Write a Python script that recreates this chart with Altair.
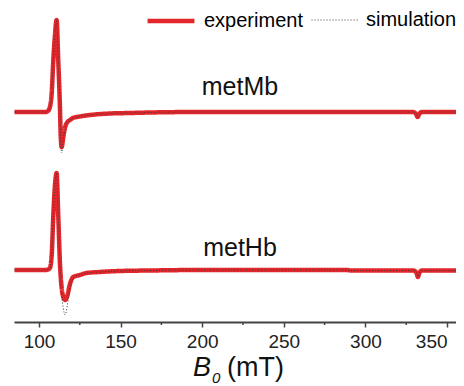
import altair as alt
import pandas as pd

# ---- data (field in mT, intensity in arbitrary units) ----
field_mb = [85, 100, 104, 105.5, 106.7, 107.8, 108.8, 109.8, 110.8, 111.8, 112.9, 113.3,
            113.9, 114.9, 115.9, 117, 119, 120.8, 125, 131.3, 143.5, 155.8, 168, 198.7,
            250, 300, 329.5, 331, 332, 333, 334.5, 360]
exp_mb = [0, 0, 0, 1, 5, 19, 52, 77, 92, 52, 2, -23,
          -35, -25, -16, -11, -8, -6, -4.5, -3, -1.5, -1, -0.5, 0,
          0, 0, 0, -2, -5, -2, 0, 0]
sim_mb = [0, 0, 0, 1, 5, 19, 52, 77, 92, 52, 2, -27,
          -41, -28, -17, -11, -8, -6, -4.5, -3, -1.5, -1, -0.5, 0,
          0, 0, 0, -2, -5, -2, 0, 0]

field_hb = [85, 100, 104, 105.5, 106.7, 107.8, 108.8, 109.8, 110.8, 111.8, 112.9, 113.9,
            114.9, 116, 117.3, 119, 121, 125, 129.2, 137, 149.6, 168, 198.7, 250,
            288, 292, 329.5, 331.3, 332.2, 333, 334.5, 360]
exp_hb = [0, 0, 0, 0.5, 2, 15, 55, 85, 97, 55, 5, -18,
          -27, -30, -26, -14, -7, -5, -3, -2, -1, -0.5, 0, 0,
          0, -0.6, -0.6, -3, -7, -3, -0.6, -0.6]
sim_hb = [0, 0, 0, 0.5, 2, 15, 55, 85, 97, 55, 5, -24,
          -38, -45, -36, -18, -8, -5, -3, -2, -1, -0.5, 0, 0,
          0, -0.6, -0.6, -3, -7, -3, -0.6, -0.6]

spectra = ["metMb", "metHb"]
offsets = {"metMb": 158, "metHb": 0}
series = ["experiment", "simulation"]
major_ticks = [100, 150, 200, 250, 300, 350]
minor_ticks = [125, 175, 225, 275, 325]

RED = "#e3262b"
DOT = "#3a3a3a"
FONT = "Liberation Sans"

rows = []
for name, fx, ex, sm in [("metMb", field_mb, exp_mb, sim_mb), ("metHb", field_hb, exp_hb, sim_hb)]:
    for f, e, s in zip(fx, ex, sm):
        rows.append({"spectrum": name, "series": "experiment", "field": f, "y": e + offsets[name]})
        rows.append({"spectrum": name, "series": "simulation", "field": f, "y": s + offsets[name]})
df = pd.DataFrame(rows)

W, H = 442, 314

xscale = alt.Scale(domain=[84.7, 355.5], nice=False, zero=False)
yscale = alt.Scale(domain=[-52, 262], nice=False, zero=False)

leg = alt.Legend(title=None, orient="none", legendX=131, legendY=-13, direction="horizontal",
                 symbolType="stroke", symbolSize=2200, labelFontSize=20, labelFont=FONT,
                 labelColor="#000", labelOffset=7, columnPadding=6, labelLimit=300)

enc = dict(
    x=alt.X("field:Q", scale=xscale,
            axis=alt.Axis(values=major_ticks, tickSize=5, tickWidth=1.5, tickColor="#444",
                          domainColor="#444", domainWidth=2, labelFontSize=19, labelFont=FONT,
                          labelColor="#222", labelPadding=5, labelFlush=12, grid=False, title=None)),
    y=alt.Y("y:Q", scale=yscale, axis=None),
    color=alt.Color("series:N", scale=alt.Scale(domain=series, range=[RED, DOT]), legend=leg),
    strokeDash=alt.StrokeDash("series:N", scale=alt.Scale(domain=series, range=[[1, 0], [1, 2]]), legend=leg),
    strokeWidth=alt.StrokeWidth("series:O", scale=alt.Scale(domain=series, range=[4.5, 1]), legend=leg),
    detail="spectrum:N",
)

exp_layer = alt.Chart(df).transform_filter(alt.datum.series == "experiment").mark_line(
    interpolate="monotone").encode(**enc)
sim_layer = alt.Chart(df).transform_filter(alt.datum.series == "simulation").mark_line(
    interpolate="monotone").encode(**enc)

minor = alt.Chart(pd.DataFrame({"v": minor_ticks})).mark_rule(color="#444", strokeWidth=1.5).encode(
    x=alt.X("v:Q", scale=xscale), y=alt.value(H), y2=alt.value(H + 3))

lab_mb = alt.Chart(pd.DataFrame({"t": ["metMb"]})).mark_text(
    font=FONT, fontSize=25, align="center", baseline="middle", color="#111").encode(
    text="t:N", x=alt.value(226), y=alt.value(79))
lab_hb = alt.Chart(pd.DataFrame({"t": ["metHb"]})).mark_text(
    font=FONT, fontSize=25, align="center", baseline="middle", color="#111").encode(
    text="t:N", x=alt.value(226), y=alt.value(240))

t_b = alt.Chart(pd.DataFrame({"t": ["B"]})).mark_text(
    font=FONT, fontSize=27, fontStyle="italic", align="left", baseline="alphabetic", color="#111").encode(
    text="t:N", x=alt.value(179), y=alt.value(368))
t_0 = alt.Chart(pd.DataFrame({"t": ["0"]})).mark_text(
    font=FONT, fontSize=15, fontStyle="italic", align="left", baseline="alphabetic", color="#111").encode(
    text="t:N", x=alt.value(198), y=alt.value(375))
t_u = alt.Chart(pd.DataFrame({"t": ["(mT)"]})).mark_text(
    font=FONT, fontSize=27, align="left", baseline="alphabetic", color="#111").encode(
    text="t:N", x=alt.value(213), y=alt.value(368))

chart = alt.layer(exp_layer, sim_layer, minor, lab_mb, lab_hb, t_b, t_0, t_u).properties(
    width=W, height=H,
    autosize=alt.AutoSizeParams(type="none"),
    padding={"left": 6, "top": 0, "right": 0, "bottom": 64},
).configure_view(stroke=None)

chart.save("out.html", embed_options={"renderer": "svg", "actions": False})
